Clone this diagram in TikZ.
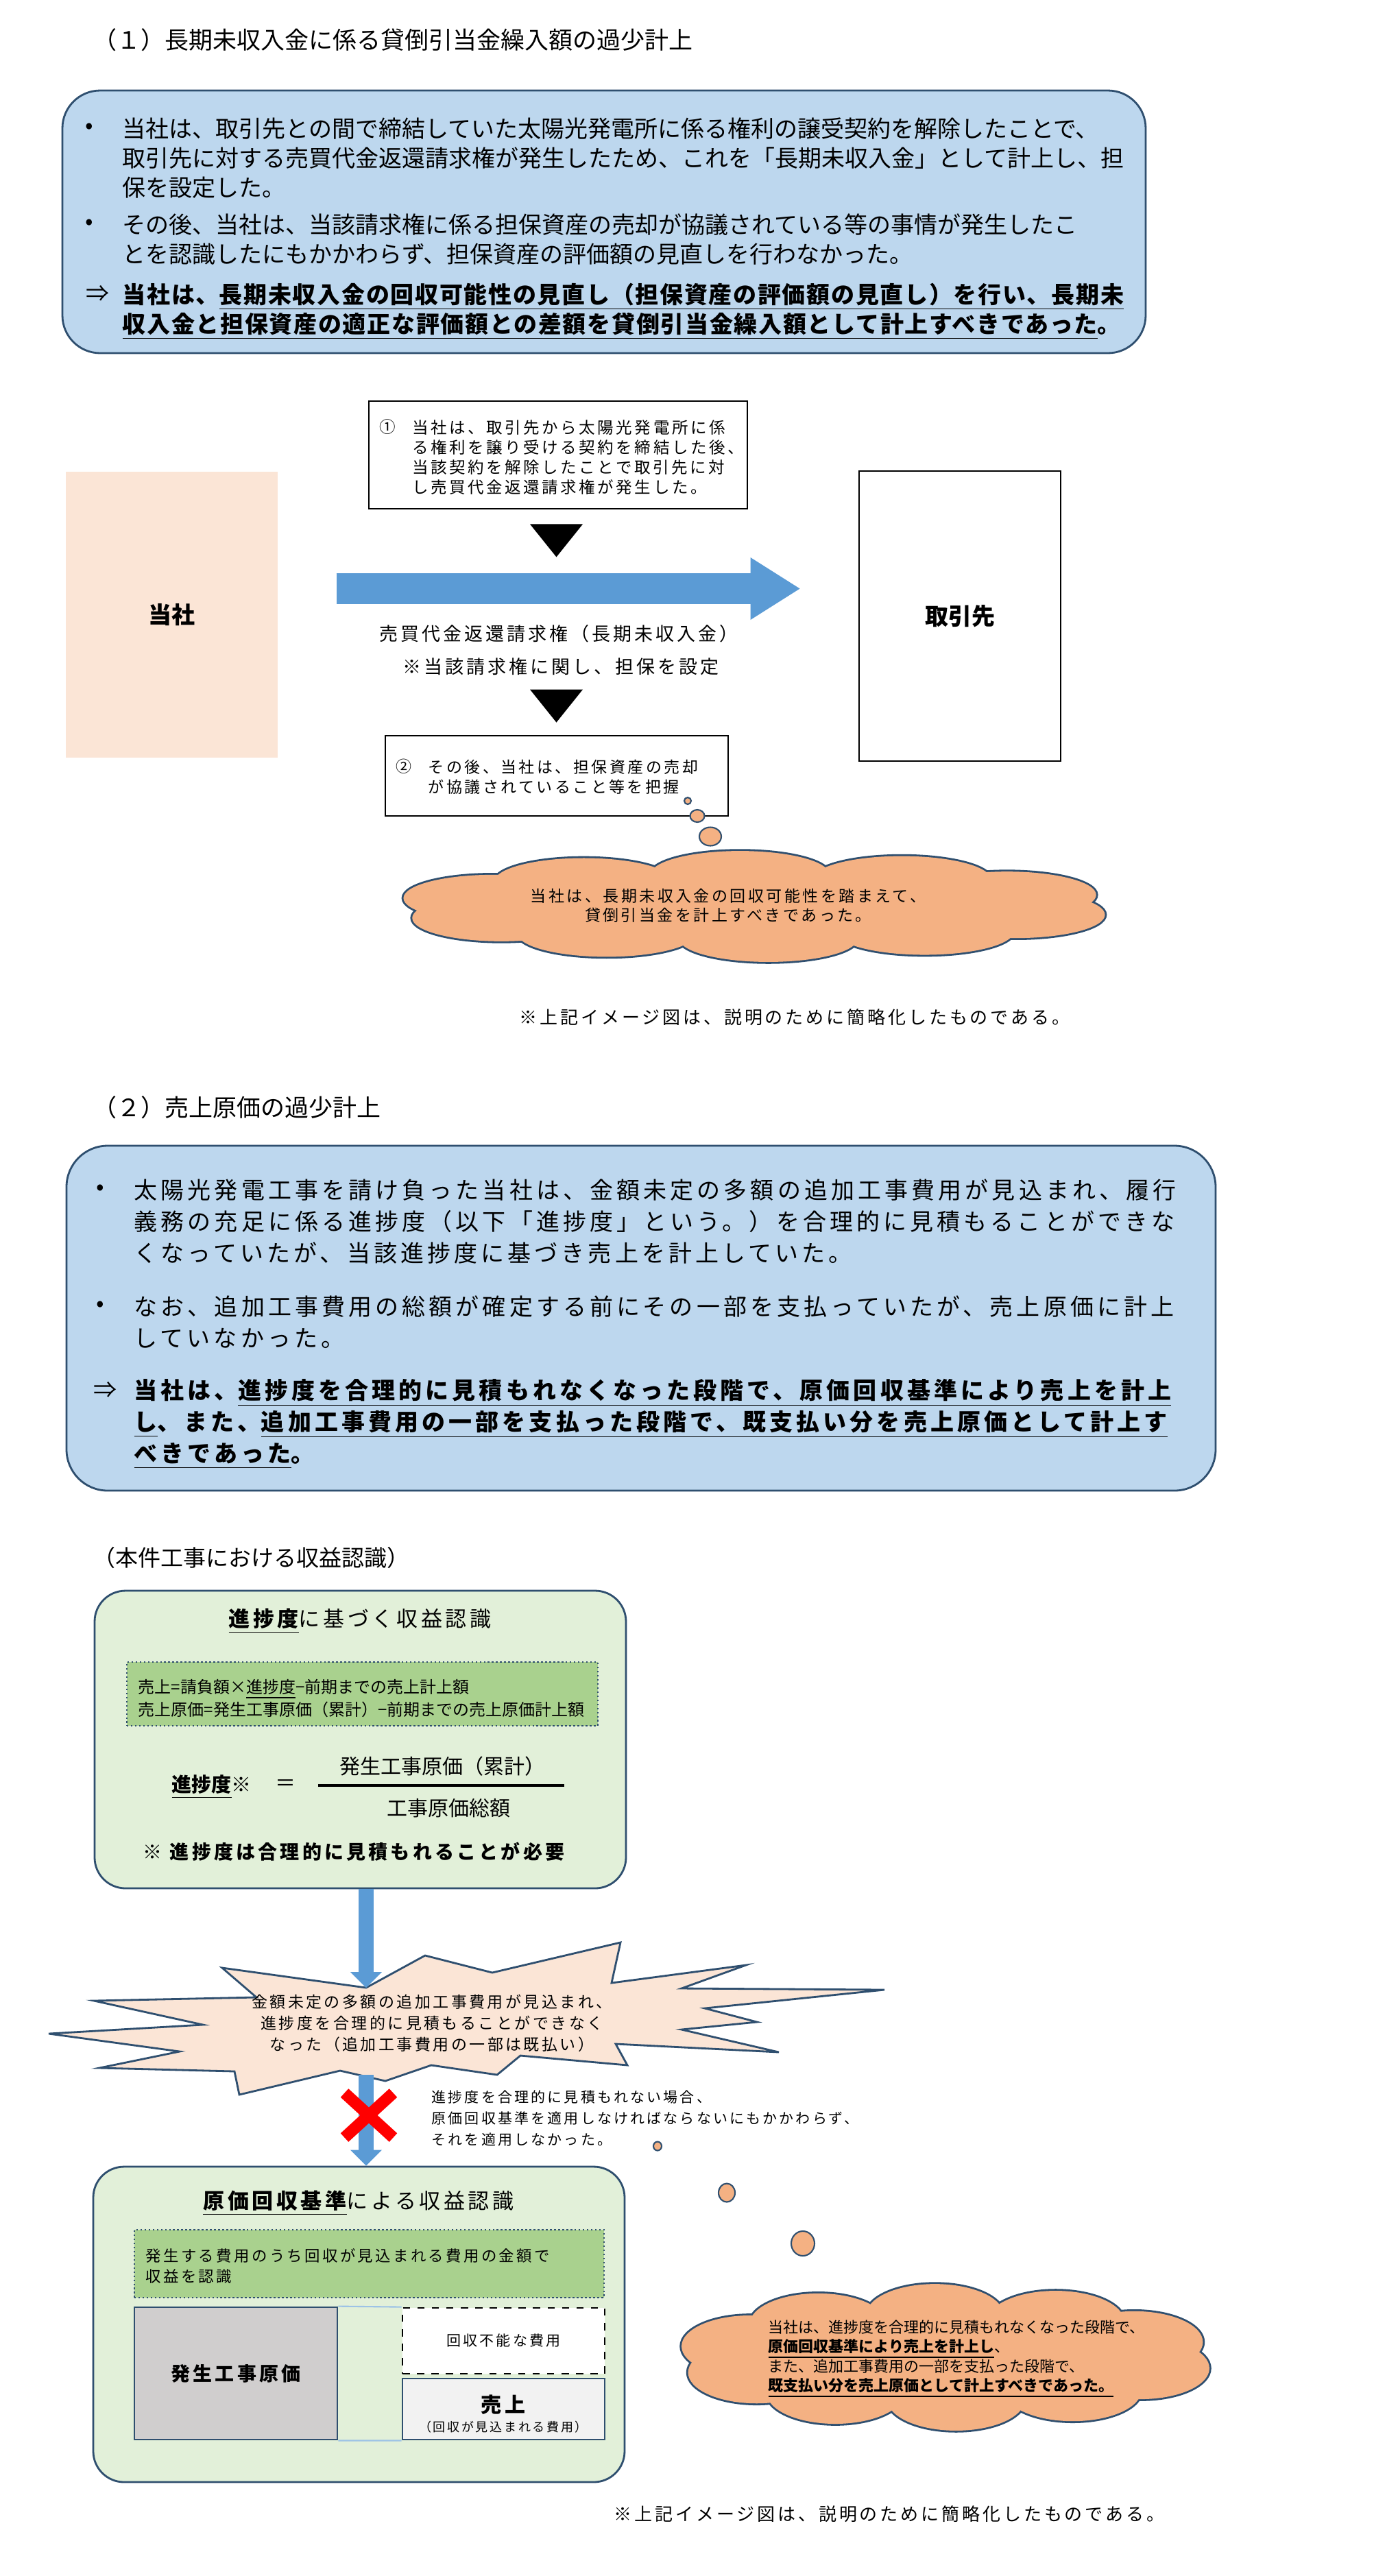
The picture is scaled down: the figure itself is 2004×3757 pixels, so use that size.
\documentclass[tikz,border=0pt]{standalone}
\usepackage{fontspec}
\setmainfont{Noto Sans CJK JP}
\newfontfamily\wf[LetterSpace=15]{Noto Sans CJK JP}
\newfontfamily\mf[LetterSpace=5]{Noto Sans CJK JP}
\usetikzlibrary{positioning, shapes.geometric, shapes.misc,
                arrows.meta, calc}
\definecolor{rim}{HTML}{2F4F6F}
\definecolor{sky}{HTML}{BDD7EE}
\definecolor{peach}{HTML}{FBE5D6}
\definecolor{apricot}{HTML}{F4B183}
\definecolor{arrblue}{HTML}{5B9BD5}
\definecolor{leaf}{HTML}{E2F0D9}
\definecolor{mint}{HTML}{A9D18E}
\definecolor{ash}{HTML}{D0CECE}
\definecolor{pale}{HTML}{F2F2F2}
\definecolor{wire}{HTML}{9DC3E6}
\newcommand\fsz[2]{\fontsize{\fpeval{#1*0.28453}pt}{\fpeval{#2*0.28453}pt}\selectfont}
\newcommand\ulin[1]{\underline{#1}}

\begin{document}
\begin{tikzpicture}[x=0.1mm, y=-0.1mm,
  bluebox/.style={draw=rim, fill=sky, rounded corners=5.5mm, line width=0.8pt},
  grnbox/.style={draw=rim, fill=leaf, rounded corners=4.5mm, line width=0.8pt},
  inbox/.style={draw=rim, fill=mint, densely dotted, line width=0.7pt},
  note/.style={draw=black, line width=0.8pt},
  txt/.style={anchor=north west, inner sep=0pt, align=left},
  lbl/.style={inner sep=0pt},
  puff/.style={draw=rim, fill=apricot, line width=1.6pt},
  bub/.style={ellipse, draw=rim, fill=apricot, inner sep=0pt, line width=0.6pt},
  arr/.style={line width=2.2mm, draw=arrblue, -{Triangle[width=4.6mm,length=2.3mm,line width=0pt]}},
  bigarr/.style={line width=4.5mm, draw=arrblue, -{Triangle[width=9.1mm,length=7.2mm,line width=0pt]}}
]
  \fill[white] (0,0) rectangle (2004,3757);
  \useasboundingbox (0,0) rectangle (2004,3757);

  \node[lbl, anchor=west, font=\fsz{35}{40}] (t1) at (135,58) {（１）長期未収入金に係る貸倒引当金繰入額の過少計上};

  \node[bluebox, minimum width=158mm, minimum height=38.3mm] (sum1) at (881,323.5) {};
  \node[lbl, font=\fsz{34}{43}] (d1a) at (130,187) {•};
  \node[lbl, font=\fsz{34}{43}] (d1b) at (130,327) {•};
  \node[lbl, font=\fsz{34}{43}] (d1c) at (142,428) {⇒};
  \node[txt, font=\fsz{34}{43}] (s1a) at (178,171) {当社は、取引先との間で締結していた太陽光発電所に係る権利の譲受契約を解除したことで、\\取引先に対する売買代金返還請求権が発生したため、これを「長期未収入金」として計上し、担\\保を設定した。};
  \node[txt, font=\fsz{34}{43}] (s1b) at (178,311) {その後、当社は、当該請求権に係る担保資産の売却が協議されている等の事情が発生したこ\\とを認識したにもかかわらず、担保資産の評価額の見直しを行わなかった。};
  \node[txt, font=\mf\bfseries\fsz{34}{43}] (s1c) at (178,412) {当社は、\ulin{長期未収入金の回収可能性の見直し（担保資産の評価額の見直し）を行い、長期未}\\\ulin{収入金と担保資産の適正な評価額との差額を貸倒引当金繰入額として計上すべきであった}。};

  \node[fill=peach, minimum width=30.9mm, minimum height=41.7mm, font=\bfseries\fsz{34}{40}] (tosha) at (250.5,896.5) {当社};
  \node[note, minimum width=29.4mm, minimum height=42.3mm, font=\bfseries\fsz{34}{40}] (torihiki) at (1400,898.5) {取引先};

  \node[note, minimum width=55.2mm, minimum height=15.7mm] (kei) at (814,663.5) {};
  \node[lbl, anchor=west, font=\fsz{23.5}{29}] (keiN) at (553,623) {①};
  \node[txt, font=\wf\fsz{23.5}{29}] (keiT) at (601,612) {当社は、取引先から太陽光発電所に係\\る権利を譲り受ける契約を締結した後、\\当該契約を解除したことで取引先に対\\し売買代金返還請求権が発生した。};
  \fill ($(kei.south)+(-41,21)$) -- ++(77,0) -- ++(-38.5,48) -- cycle;

  \draw[bigarr] ($(tosha.east)+(85,-38)$) -- ($(torihiki.west)+(-85,-40)$);
  \node[lbl, font=\wf\fsz{27}{30}] (claim) at (815,924) {売買代金返還請求権（長期未収入金）};
  \node[lbl, font=\wf\fsz{27}{30}] (secu) at (818,972) {※当該請求権に関し、担保を設定};

  \node[note, minimum width=50mm, minimum height=11.7mm] (kyo) at (812,1131.5) {};
  \fill ($(kyo.north)+(-39,-66)$) -- ++(77,0) -- ++(-38.5,48) -- cycle;
  \node[lbl, anchor=west, font=\fsz{23}{29}] (kyoN) at (577,1118) {②};
  \node[txt, font=\wf\fsz{23}{29}] (kyoT) at (624,1107) {その後、当社は、担保資産の売却\\が協議されていること等を把握};

  \node[bub, minimum width=1mm, minimum height=1mm] (p1) at (1003,1168) {};
  \node[bub, minimum width=2.1mm, minimum height=1.8mm] (p2) at (1017,1190) {};
  \node[bub, minimum width=3.2mm, minimum height=2.7mm] (p3) at (1036,1220) {};
  \foreach \t in {15,51,...,339}
    \draw[puff] ({1100+395*cos(\t)},{1322+47*sin(\t)}) ellipse [x radius=13mm, y radius=3.4mm];
  \foreach \t in {15,51,...,339}
    \fill[apricot] ({1100+395*cos(\t)},{1322+47*sin(\t)}) ellipse [x radius=13mm, y radius=3.4mm];
  \fill[apricot] (1100,1322) ellipse [x radius=40mm, y radius=5.5mm];
  \node[lbl, align=center, font=\wf\fsz{23}{28}] (c1t) at (1062,1321) {当社は、長期未収入金の回収可能性を踏まえて、\\貸倒引当金を計上すべきであった。};

  \node[lbl, anchor=west, font=\wf\fsz{26}{30}] (fn1) at (757,1484) {※上記イメージ図は、説明のために簡略化したものである。};

  \node[lbl, anchor=west, font=\fsz{35}{40}] (t2) at (135,1615) {（２）売上原価の過少計上};

  \node[bluebox, rounded corners=6mm, minimum width=167.6mm, minimum height=50.3mm] (sum2) at (935,1922.5) {};
  \node[lbl, font=\fsz{34}{46}] (d2a) at (146,1735) {•};
  \node[lbl, font=\fsz{34}{46}] (d2b) at (146,1905) {•};
  \node[lbl, font=\fsz{34}{46}] (d2c) at (153,2027) {⇒};
  \node[txt, font=\wf\fsz{34}{46}] (s2a) at (195,1719) {太陽光発電工事を請け負った当社は、金額未定の多額の追加工事費用が見込まれ、履行\\義務の充足に係る進捗度（以下「進捗度」という。）を合理的に見積もることができな\\くなっていたが、当該進捗度に基づき売上を計上していた。};
  \node[txt, font=\wf\fsz{34}{46}] (s2b) at (195,1889) {なお、追加工事費用の総額が確定する前にその一部を支払っていたが、売上原価に計上\\していなかった。};
  \node[txt, font=\wf\bfseries\fsz{34}{46}] (s2c) at (195,2011) {当社は、\ulin{進捗度を合理的に見積もれなくなった段階で、原価回収基準により売上を計上}\\\ulin{し}、また、\ulin{追加工事費用の一部を支払った段階で、既支払い分を売上原価として計上す}\\\ulin{べきであった}。};

  \node[lbl, anchor=west, font=\fsz{33}{38}] (t3) at (135,2272) {（本件工事における収益認識）};

  \node[grnbox, minimum width=77.5mm, minimum height=43.4mm] (g1) at (525.5,2537) {};
  \node[lbl, font=\wf\fsz{31}{36}] (g1t) at (525,2364) {\textbf{\ulin{進捗度}}に基づく収益認識};
  \node[inbox, minimum width=68.7mm, minimum height=9.3mm] (g1in) at (528.5,2470.5) {};
  \node[txt, font=\fsz{24}{29}] (g1inT) at (201,2448) {売上=請負額×\ulin{進捗度}−前期までの売上計上額\\売上原価=発生工事原価（累計）−前期までの売上原価計上額};
  \node[lbl, anchor=west, font=\fsz{29}{34}] (prog) at (250,2606) {\textbf{\ulin{進捗度}}※};
  \node[lbl, font=\fsz{30}{34}] (eq) at (416,2604) {＝};
  \node[lbl, font=\fsz{30}{34}] (num) at (645,2576) {発生工事原価（累計）};
  \node[lbl, font=\fsz{30}{34}] (den) at (654,2637) {工事原価総額};
  \draw[line width=0.35mm] (464,2604) -- (823,2604);
  \node[lbl, anchor=west, font=\wf\bfseries\fsz{28}{32}] (need) at (208,2701) {※\hspace{0.4em}進捗度は合理的に見積もれることが必要};

  \filldraw[fill=peach, draw=rim, line width=0.8pt] (324,2870) -- (534,2899) -- (620,2852) -- (718,2877) -- (905,2833) -- (892,2892) -- (1088,2866) -- (994,2900) -- (1290,2902) -- (1028,2929) -- (1104,2949) -- (994,2960) -- (1136,2993) -- (898,2981) -- (915,3012) -- (759,2998) -- (725,3026) -- (629,3012) -- (562,3035) -- (496,3020) -- (349,3055) -- (342,3021) -- (145,3016) -- (262,2992) -- (71,2966) -- (296,2953) -- (137,2918) -- (374,2913) -- cycle;
  \node[lbl, align=center, font=\wf\fsz{23}{31}] (burstT) at (630,2951) {金額未定の多額の追加工事費用が見込まれ、\\進捗度を合理的に見積もることができなく\\なった（追加工事費用の一部は既払い）};
  \coordinate (burstTop) at (534,2899);
  \coordinate (burstBot) at (534,3026);

  \node[grnbox, minimum width=77.5mm, minimum height=46mm] (g2) at (523.5,3390) {};
  \draw[arr] (g1.south -| burstTop) -- (burstTop);
  \draw[arr] (burstBot) -- (g2.north -| burstBot);
  \node[cross out, draw=red, line width=1.7mm, minimum width=5.4mm, minimum height=4.8mm, inner sep=0pt] (nox) at (538,3085) {};
  \node[txt, font=\wf\fsz{21}{31}] (rule) at (629,3048) {進捗度を合理的に見積もれない場合、\\原価回収基準を適用しなければならないにもかかわらず、\\それを適用しなかった。};

  \node[lbl, font=\wf\fsz{31}{36}] (g2t) at (523,3213) {\textbf{\ulin{原価回収基準}}による収益認識};
  \node[inbox, minimum width=68.5mm, minimum height=9.9mm] (g2in) at (538.5,3301.5) {};
  \node[txt, font=\wf\fsz{22.4}{30}] (g2inT) at (212,3278.5) {発生する費用のうち回収が見込まれる費用の金額で\\収益を認識};
  \node[draw=rim, fill=ash, line width=0.8pt, minimum width=29.6mm, minimum height=19.3mm, font=\wf\bfseries\fsz{28}{32}] (cost) at (344,3461.5) {発生工事原価};
  \node[draw=black, dashed, fill=white, line width=0.8pt, minimum width=29.5mm, minimum height=9.6mm, font=\wf\fsz{21}{26}] (loss) at (734.5,3414) {回収不能な費用};
  \node[draw=rim, fill=pale, line width=0.8pt, minimum width=29.5mm, minimum height=8.9mm] (sales) at (734.5,3513.5) {};
  \node[lbl, font=\wf\bfseries\fsz{30}{34}] (salesT) at (734,3507) {売上};
  \node[lbl, font=\wf\fsz{18}{22}] (salesS) at (734,3540) {（回収が見込まれる費用）};
  \draw[draw=wire, line width=0.6pt] (cost.north east) -- (loss.north west);
  \draw[draw=wire, line width=0.6pt] (cost.south east) -- (sales.south west);

  \node[bub, minimum width=1.2mm, minimum height=1.3mm] (q1) at (959,3130) {};
  \node[bub, minimum width=2.4mm, minimum height=2.7mm] (q2) at (1060,3198) {};
  \node[bub, minimum width=3.4mm, minimum height=3.6mm] (q3) at (1171,3272) {};
  \foreach \t in {15,51,...,339}
    \draw[puff] ({1379+295*cos(\t)},{3438+62*sin(\t)}) ellipse [x radius=10mm, y radius=4.5mm];
  \foreach \t in {15,51,...,339}
    \fill[apricot] ({1379+295*cos(\t)},{3438+62*sin(\t)}) ellipse [x radius=10mm, y radius=4.5mm];
  \fill[apricot] (1379,3438) ellipse [x radius=30mm, y radius=7.5mm];
  \node[txt, font=\fsz{22}{28.5}] (c2t) at (1120,3383) {当社は、進捗度を合理的に見積もれなくなった段階で、\\\textbf{\ulin{原価回収基準により売上を計上し}}、\\また、追加工事費用の一部を支払った段階で、\\\textbf{\ulin{既支払い分を売上原価として計上すべきであった。}}};

  \node[lbl, anchor=west, font=\wf\fsz{26}{30}] (fn2) at (895,3667) {※上記イメージ図は、説明のために簡略化したものである。};
\end{tikzpicture}
\end{document}
